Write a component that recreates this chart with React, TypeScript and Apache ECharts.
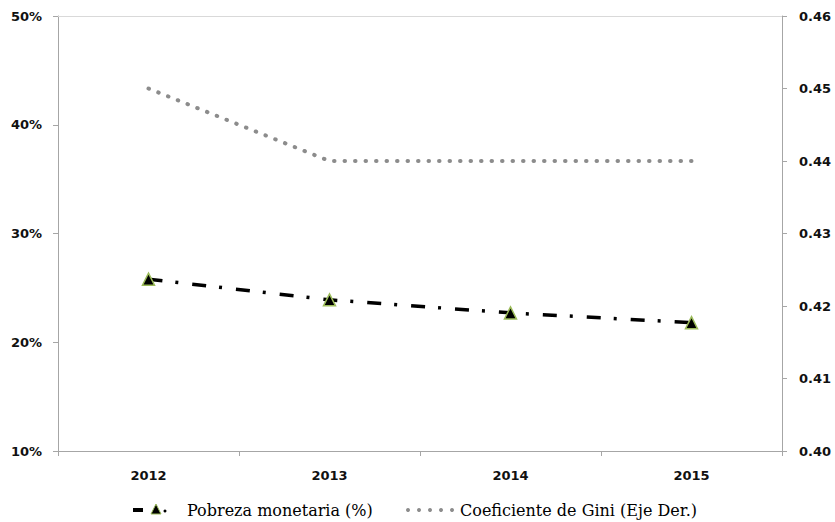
import React, { useEffect, useRef } from "react";
import * as echarts from "echarts";

const years = ["2012", "2013", "2014", "2015"];
const pobreza = [25.8, 23.9, 22.7, 21.8];
const gini = [0.45, 0.44, 0.44, 0.44];
const leftTicks = { min: 10, max: 50, interval: 10 };
const rightTicks = { min: 0.4, max: 0.46, interval: 0.01 };
const seriesNames = ["Pobreza monetaria (%)", "Coeficiente de Gini (Eje Der.)"];

const labelFont = {
  fontFamily: "'DejaVu Sans', Verdana, sans-serif",
  fontWeight: "bold" as const,
  fontSize: 13,
  color: "#111",
};

const legendFont = "16px 'DejaVu Serif', 'Liberation Serif', serif";

export default function App() {
  const ref = useRef<HTMLDivElement>(null);
  useEffect(() => {
    document.body.style.margin = "0";
    const chart = echarts.init(ref.current!, null, { renderer: "svg" });
    const ly = 510;
    const giniDots = [408, 419, 430, 441, 452].map((x) => ({
      type: "circle",
      shape: { cx: x, cy: ly, r: 2 },
      style: { fill: "#8c8c8c" },
    }));
    chart.setOption({
      animation: false,
      backgroundColor: "#fff",
      grid: { left: 58, right: 53, top: 16, bottom: 71 },
      graphic: [
        { type: "line", shape: { x1: 133, y1: ly, x2: 143, y2: ly }, style: { stroke: "#000", lineWidth: 4 } },
        {
          type: "polygon",
          shape: { points: [[156, ly - 6], [161, ly + 4], [151, ly + 4]] },
          style: { fill: "#000", stroke: "#9bbb59", lineWidth: 1 },
        },
        { type: "circle", shape: { cx: 165, cy: ly + 1, r: 1.5 }, style: { fill: "#000" } },
        {
          type: "text",
          x: 187,
          y: ly,
          style: { text: seriesNames[0], font: legendFont, fill: "#000", verticalAlign: "middle" },
        },
        ...giniDots,
        {
          type: "text",
          x: 460,
          y: ly,
          style: { text: seriesNames[1], font: legendFont, fill: "#000", verticalAlign: "middle" },
        },
      ],
      xAxis: [
        {
          type: "category",
          data: years,
          boundaryGap: true,
          axisLine: { lineStyle: { color: "#a6a6a6", width: 1 } },
          axisTick: { show: true, length: 5, lineStyle: { color: "#a6a6a6" } },
          axisLabel: { ...labelFont, margin: 18 },
        },
        {
          type: "category",
          data: years,
          position: "top",
          axisLine: { lineStyle: { color: "#d9d9d9", width: 1 } },
          axisTick: { show: false },
          axisLabel: { show: false },
        },
      ],
      yAxis: [
        {
          type: "value",
          min: leftTicks.min,
          max: leftTicks.max,
          interval: leftTicks.interval,
          position: "left",
          axisLine: { show: true, lineStyle: { color: "#a6a6a6" } },
          axisTick: { show: true, length: 5, lineStyle: { color: "#a6a6a6" } },
          splitLine: { show: false },
          axisLabel: { ...labelFont, margin: 16, formatter: (v: number) => `${v}%` },
        },
        {
          type: "value",
          min: rightTicks.min,
          max: rightTicks.max,
          interval: rightTicks.interval,
          position: "right",
          axisLine: { show: true, lineStyle: { color: "#a6a6a6" } },
          axisTick: { show: true, length: 5, lineStyle: { color: "#a6a6a6" } },
          splitLine: { show: false },
          axisLabel: { ...labelFont, margin: 17, formatter: (v: number) => v.toFixed(2) },
        },
      ],
      series: [
        {
          name: seriesNames[0],
          type: "line",
          data: pobreza,
          xAxisIndex: 0,
          yAxisIndex: 0,
          symbol: "triangle",
          symbolSize: 12,
          itemStyle: { color: "#000", borderColor: "#9bbb59", borderWidth: 1.5 },
          lineStyle: { color: "#000", width: 3.5, type: [14, 13, 3, 14], cap: "butt" },
        },
        {
          name: seriesNames[1],
          type: "line",
          data: gini,
          xAxisIndex: 0,
          yAxisIndex: 1,
          showSymbol: false,
          symbol: "none",
          itemStyle: { color: "#8c8c8c" },
          lineStyle: { color: "#8c8c8c", width: 4, type: [0.5, 10], cap: "round" },
        },
      ],
    });
    return () => chart.dispose();
  }, []);
  return <div ref={ref} style={{ width: 835, height: 522 }} />;
}
